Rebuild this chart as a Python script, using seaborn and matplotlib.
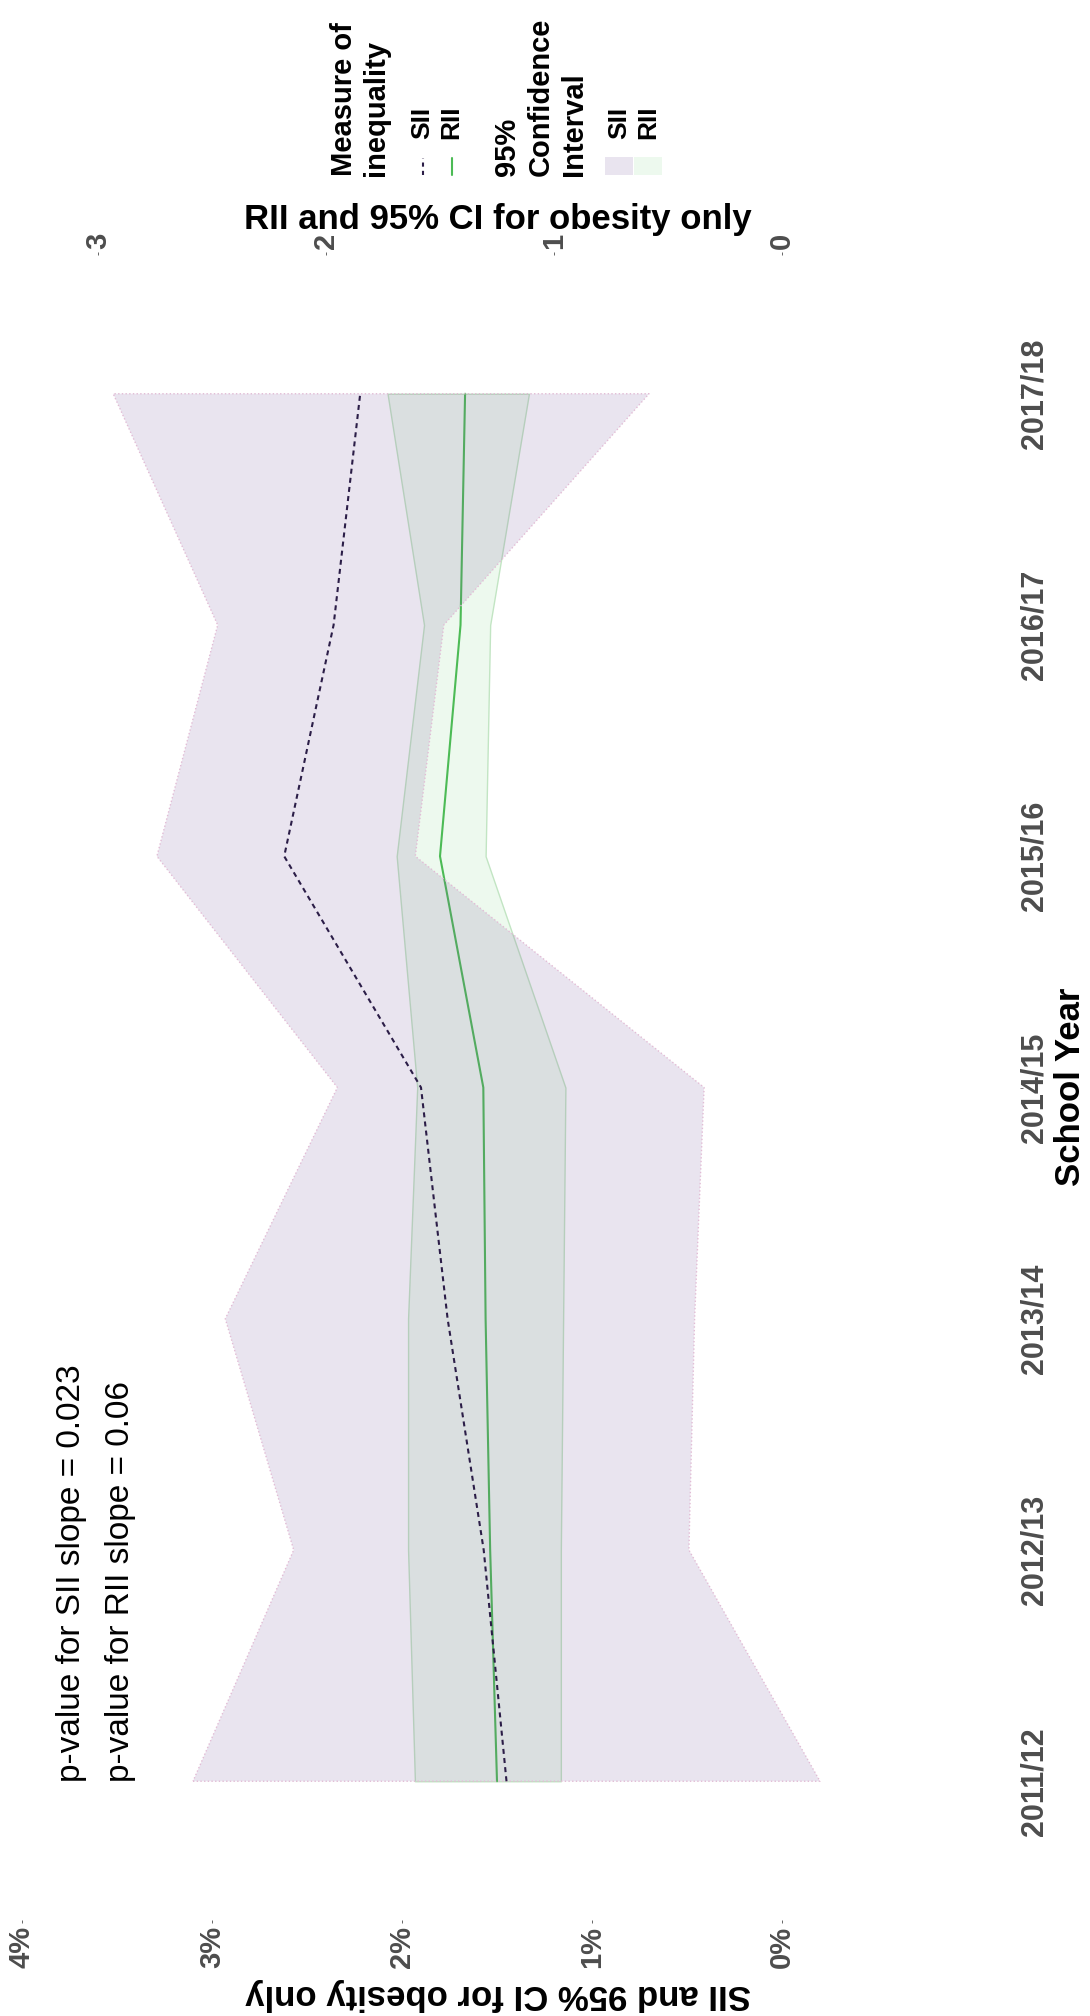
import matplotlib
matplotlib.use('Agg')
import matplotlib.pyplot as plt
from matplotlib.colors import to_rgba
from matplotlib.lines import Line2D
from matplotlib.patches import Rectangle
import pandas as pd
import seaborn as sns

# school years and inequality estimates (SII in %, RII as ratio)
years = ['2011/12', '2012/13', '2013/14', '2014/15', '2015/16', '2016/17', '2017/18']
sii = [1.45, 1.57, 1.76, 1.90, 2.62, 2.36, 2.22]
sii_lower = [-0.20, 0.49, 0.46, 0.41, 1.93, 1.78, 0.70]
sii_upper = [3.10, 2.57, 2.93, 2.34, 3.29, 2.97, 3.52]
rii = [1.25, 1.28, 1.30, 1.31, 1.50, 1.41, 1.39]
rii_lower = [0.97, 0.97, 0.96, 0.95, 1.30, 1.28, 1.11]
rii_upper = [1.61, 1.64, 1.64, 1.60, 1.69, 1.57, 1.73]

sii_ticks = [0, 1, 2, 3, 4]
rii_ticks = [0, 1, 2, 3]
p_text = ['p-value for SII slope = 0.023', 'p-value for RII slope = 0.06']

# colours
sii_col = '#2b1d47'
rii_col = '#4cbb55'
sii_fill = to_rgba('#7a5a9c', 0.16)
rii_fill = to_rgba('#4fc85a', 0.10)
tick_col = '#4d4d4d'

sns.set_theme(style='white')
plt.rcParams['font.family'] = ['Liberation Sans', 'DejaVu Sans']

W, H = 1090, 2016


def fx(x):
    return x / W


def fy(y):
    return 1 - y / H


df = pd.DataFrame({'year': years, 'pos': range(len(years)), 'sii': sii,
                   'sii_lower': sii_lower, 'sii_upper': sii_upper,
                   'rii': rii, 'rii_lower': rii_lower, 'rii_upper': rii_upper})

fig = plt.figure(figsize=(W / 100, H / 100), dpi=100)

# chart is drawn turned a quarter turn: school year runs upwards, SII grows to the left
left, right, top, bottom = -25.5, 1019.5, 255, 1920
ax = fig.add_axes([fx(left), fy(bottom), (right - left) / W, (bottom - top) / H])
ax.set_facecolor('none')
ax.fill_betweenx(df['pos'], df['sii_lower'], df['sii_upper'], facecolor=sii_fill,
                 edgecolor='#e2bcd5', linestyle=':', linewidth=1.0)
ax.set_xlim(4.25, -1.25)
ax.set_ylim(-0.6, 6.6)

ax2 = ax.twiny()
ax2.set_xlim(4.25 / 1.2, -1.25 / 1.2)
ax2.fill_betweenx(df['pos'], df['rii_lower'], df['rii_upper'], facecolor=rii_fill,
                  edgecolor='#c2e5c3', linewidth=1.0)
sns.lineplot(data=df, x='rii', y='pos', orient='y', ax=ax2, color=rii_col, linewidth=1.5)
sns.lineplot(data=df, x='sii', y='pos', orient='y', ax=ax, color=sii_col, linewidth=1.5,
             dashes=False, zorder=5)
ax.lines[-1].set_dashes((2.4, 2.0))
ax.set_zorder(ax2.get_zorder() + 1)

for a in (ax, ax2):
    for s in a.spines.values():
        s.set_visible(False)
    a.grid(False)
    a.set_xlabel('')
    a.set_ylabel('')

ax.set_xticks(sii_ticks)
ax.set_xticklabels([f'{t}%' for t in sii_ticks], rotation=90, fontsize=21,
                   fontweight='bold', color=tick_col)
ax.yaxis.tick_right()
ax.set_yticks(df['pos'])
ax.set_yticklabels(years, rotation=90, va='center', fontsize=22, fontweight='bold', color=tick_col)
ax.tick_params(axis='x', length=2.5, width=0.6, color=tick_col, pad=2, bottom=True, top=False)
ax.tick_params(axis='y', length=2.5, width=0.6, color=tick_col, pad=-2.8, right=True, left=False)

ax2.set_xticks(rii_ticks)
ax2.set_xticklabels([str(t) for t in rii_ticks], rotation=90, fontsize=21,
                    fontweight='bold', color=tick_col)
ax2.tick_params(axis='x', length=2.5, width=0.6, color=tick_col, pad=2, top=True)
ax2.tick_params(axis='y', left=False, right=False, labelleft=False, labelright=False)

# p-values written at the first school year
ax.text(3.74, -0.005, p_text[0], rotation=90, ha='center', va='bottom', fontsize=24, color='black')
ax.text(3.48, -0.005, p_text[1], rotation=90, ha='center', va='bottom', fontsize=24, color='black')

# axis titles
fig.text(fx(498), fy(1995), 'SII and 95% CI for obesity only', rotation=180, ha='center',
         va='center', fontsize=25, fontweight='bold', color='black')
fig.text(fx(498), fy(229), 'RII and 95% CI for obesity only', ha='center', va='baseline',
         fontsize=25, fontweight='bold', color='black')
fig.text(fx(1071), fy(1087), 'School Year', rotation=90, ha='center', va='center',
         fontsize=25, fontweight='bold', color='black')

# legend, drawn by hand because it is turned with the chart
for x, label in [(344, 'Measure of'), (376, 'inequality'), (507, '95%'),
                 (541, 'Confidence'), (574, 'Interval')]:
    fig.text(fx(x), fy(176), label, rotation=90, ha='center', va='bottom',
             fontsize=21, fontweight='bold', color='black')
for x, label in [(422, 'SII'), (451, 'RII'), (619, 'SII'), (648, 'RII')]:
    fig.text(fx(x), fy(139), label, rotation=90, ha='center', va='bottom',
             fontsize=19, fontweight='bold', color='black')
fig.add_artist(Line2D([fx(423), fx(423)], [fy(175), fy(158)], color=sii_col, linewidth=1.5,
                      dashes=(2.0, 2.0), transform=fig.transFigure))
fig.add_artist(Line2D([fx(452), fx(452)], [fy(175), fy(158)], color=rii_col, linewidth=1.5,
                      transform=fig.transFigure))
fig.add_artist(Rectangle((fx(605), fy(175)), 28 / W, 18 / H, facecolor=sii_fill,
                         edgecolor='none', transform=fig.transFigure))
fig.add_artist(Rectangle((fx(634), fy(175)), 28 / W, 18 / H, facecolor=rii_fill,
                         edgecolor='none', transform=fig.transFigure))

fig.savefig('out.png', dpi=100, facecolor='white')
